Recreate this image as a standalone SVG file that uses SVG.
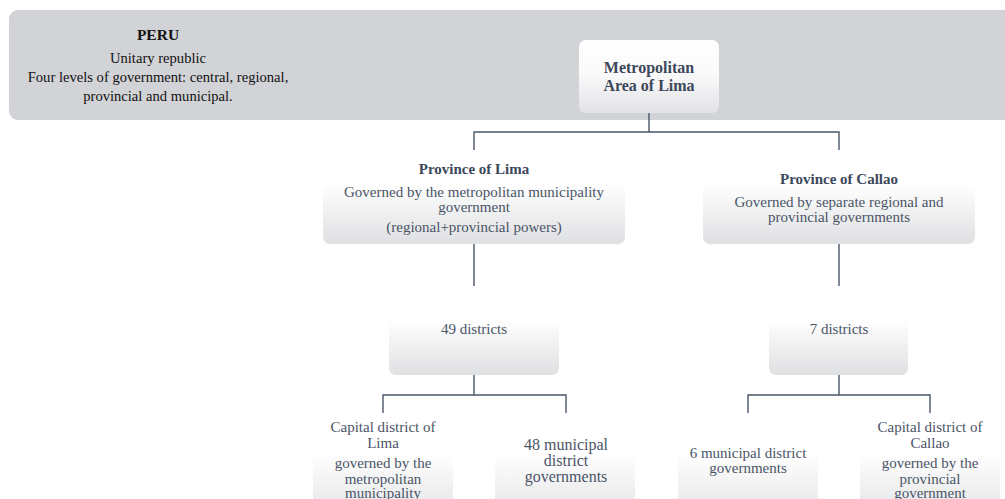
<svg xmlns="http://www.w3.org/2000/svg" width="1005" height="499" viewBox="0 0 1005 499">
<defs>
<linearGradient id="g" x1="0" y1="0" x2="0" y2="1">
<stop offset="0" stop-color="#ffffff"/>
<stop offset="0.45" stop-color="#fafafb"/>
<stop offset="1" stop-color="#e2e3e5"/>
</linearGradient>
<linearGradient id="g2" x1="0" y1="0" x2="0" y2="1">
<stop offset="0" stop-color="#ffffff"/>
<stop offset="0.35" stop-color="#ffffff"/>
<stop offset="1" stop-color="#dfe0e2"/>
</linearGradient>
<style>
.box{fill:url(#g);}
.box2{fill:url(#g2);}
text{font-family:'Liberation Serif','Times New Roman',Times,serif;text-anchor:middle;}
.t{font-size:15px;fill:#4a5466;}
.b{font-size:15px;font-weight:bold;fill:#3c475a;}
.k{font-size:14.6px;fill:#111;}
.big{font-size:16px;}
.m{font-size:16px;}
.c{fill:none;stroke:#4a5568;stroke-width:1.4;}
</style>
</defs>
<g id="peru">
<rect x="9" y="10" width="1010" height="110" rx="9" fill="#d1d3d6"/>
<text class="k" x="158" y="40" style="font-weight:bold;font-size:15.5px">PERU</text>
<text class="k" x="158" y="63">Unitary republic</text>
<text class="k" x="158" y="82">Four levels of government: central, regional,</text>
<text class="k" x="158" y="101">provincial and municipal.</text>
</g>
<g id="connectors">
<path class="c" d="M649 113V132M474 151V132H839V151"/>
<path class="c" d="M474 244V286M839 244V286"/>
<path class="c" d="M474 375V395M383 413V395H566V413"/>
<path class="c" d="M839 375V395M748 413V395H930V413"/>
</g>
<g id="metro">
<rect class="box" x="579" y="40" width="140" height="73" rx="7"/>
<text class="b big" x="649" y="73">Metropolitan</text>
<text class="b big" x="649" y="91">Area of Lima</text>
</g>
<g id="prov-lima">
<rect class="box2" x="323" y="150" width="302" height="94" rx="7"/>
<text class="b" x="474" y="174">Province of Lima</text>
<text class="t" x="474" y="197">Governed by the metropolitan municipality</text>
<text class="t" x="474" y="212">government</text>
<text class="t" x="474" y="232">(regional+provincial powers)</text>
</g>
<g id="prov-callao">
<rect class="box2" x="703" y="150" width="272" height="94" rx="7"/>
<text class="b" x="839" y="184">Province of Callao</text>
<text class="t" x="839" y="207">Governed by separate regional and</text>
<text class="t" x="839" y="222">provincial governments</text>
</g>
<g id="lima-districts">
<rect class="box2" x="389" y="290" width="170" height="85" rx="7"/>
<text class="t" x="474" y="334">49 districts</text>
</g>
<g id="callao-districts">
<rect class="box2" x="769" y="290" width="139" height="85" rx="7"/>
<text class="t" x="839" y="334">7 districts</text>
</g>
<g id="capital-lima">
<rect class="box2" x="313" y="415" width="140" height="110" rx="7"/>
<text class="t" x="383" y="432">Capital district of</text>
<text class="t" x="383" y="448">Lima</text>
<text class="t" x="383" y="468">governed by the</text>
<text class="t" x="383" y="484">metropolitan</text>
<text class="t" x="383" y="498">municipality</text>
</g>
<g id="lima-municipal">
<rect class="box2" x="495" y="415" width="140" height="110" rx="7"/>
<text class="t m" x="566" y="450">48 municipal</text>
<text class="t m" x="566" y="466">district</text>
<text class="t m" x="566" y="482">governments</text>
</g>
<g id="callao-municipal">
<rect class="box2" x="678" y="415" width="140" height="110" rx="7"/>
<text class="t" x="748" y="458">6 municipal district</text>
<text class="t" x="748" y="473">governments</text>
</g>
<g id="capital-callao">
<rect class="box2" x="860" y="415" width="140" height="110" rx="7"/>
<text class="t" x="930" y="432">Capital district of</text>
<text class="t" x="930" y="448">Callao</text>
<text class="t" x="930" y="468">governed by the</text>
<text class="t" x="930" y="484">provincial</text>
<text class="t" x="930" y="498">government</text>
</g>
</svg>
